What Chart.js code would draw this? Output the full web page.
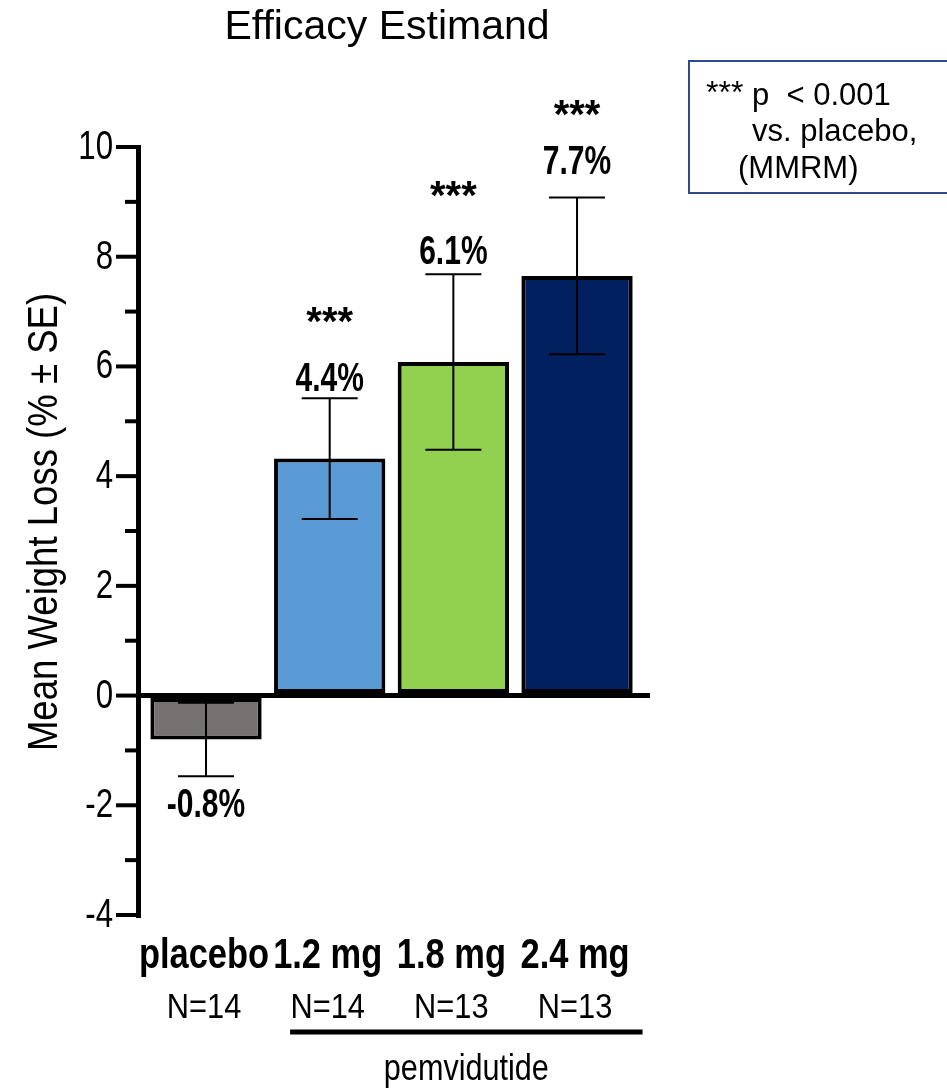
<!DOCTYPE html>
<html>
<head>
<meta charset="utf-8">
<script src="https://cdn.jsdelivr.net/npm/chart.js@4.4.1/dist/chart.umd.min.js"></script>
<style>
  html, body { margin: 0; padding: 0; background: #fff; }
  #wrap { position: relative; width: 947px; height: 1091px; }
  #note {
    position: absolute; left: 688px; top: 60px; width: 270px; height: 134px;
    border: 2px solid #2f4a8a; box-sizing: border-box;
    font-family: "Liberation Sans", Arial, sans-serif; font-size: 31px; color: #000;
  }
  #note span { position: absolute; white-space: nowrap; line-height: 1; }
</style>
</head>
<body>
<div id="wrap">
  <canvas id="c" width="947" height="1091"></canvas>
  <div id="note">
    <span style="left:16px; top:14px; font-size:32px;">***</span>
    <span style="left:62px; top:17px;">p&nbsp; &lt; 0.001</span>
    <span style="left:62px; top:53px;">vs. placebo,</span>
    <span style="left:48px; top:90px;">(MMRM)</span>
  </div>
</div>
<script>
var groups = ["placebo", "1.2 mg", "1.8 mg", "2.4 mg"];
var counts = ["N=14", "N=14", "N=13", "N=13"];
var loss = [-0.8, 4.32, 6.08, 7.65];
var se = [0.67, 1.1, 1.6, 1.43];
var valueLabels = ["-0.8%", "4.4%", "6.1%", "7.7%"];
var stars = ["", "***", "***", "***"];
var colors = ["#767171", "#5b9bd5", "#92d050", "#002060"];
var yTicks = [-4, -3, -2, -1, 0, 1, 2, 3, 4, 5, 6, 7, 8, 9, 10];

var SANS = '"Liberation Sans", Arial, sans-serif';

// no narrow font installed, so squeeze Liberation Sans sideways
function narrowText(ctx, text, x, y, sx) {
    ctx.save();
    ctx.translate(x, y);
    ctx.scale(sx, 1);
    ctx.fillText(text, 0, 0);
    ctx.restore();
}

// gap in px between error cap and label baseline, and label baseline to stars
var labelGap = [41, 7, 10, 23];
var starGap = [0, 56, 55, 46];

var extras = {
    id: 'extras',
    afterDatasetsDraw: function (chart) {
        var ctx = chart.ctx;
        var x = chart.scales.x, y = chart.scales.y;
        var meta = chart.getDatasetMeta(0);
        ctx.save();
        // error bars
        ctx.strokeStyle = '#000';
        ctx.lineWidth = 2;
        meta.data.forEach(function (bar, i) {
            var hi = y.getPixelForValue(loss[i] + se[i]);
            var lo = y.getPixelForValue(loss[i] - se[i]);
            ctx.beginPath();
            ctx.moveTo(bar.x, hi); ctx.lineTo(bar.x, lo);
            ctx.moveTo(bar.x - 28, hi); ctx.lineTo(bar.x + 28, hi);
            ctx.moveTo(bar.x - 28, lo); ctx.lineTo(bar.x + 28, lo);
            ctx.stroke();
        });
        // value labels and stars
        ctx.fillStyle = '#000';
        ctx.textAlign = 'center';
        ctx.textBaseline = 'alphabetic';
        meta.data.forEach(function (bar, i) {
            ctx.font = 'bold 40px ' + SANS;
            if (loss[i] < 0) {
                narrowText(ctx, valueLabels[i], bar.x, y.getPixelForValue(loss[i] - se[i]) + labelGap[i], 0.75);
            } else {
                var base = y.getPixelForValue(loss[i] + se[i]) - labelGap[i];
                narrowText(ctx, valueLabels[i], bar.x, base, 0.75);
                ctx.fillText(stars[i], bar.x, base - starGap[i]);
            }
        });
        // y ticks, major and minor, with labels on the even ones
        ctx.lineWidth = 4;
        ctx.textAlign = 'right';
        ctx.textBaseline = 'middle';
        ctx.font = '40px ' + SANS;
        yTicks.forEach(function (v) {
            var py = y.getPixelForValue(v);
            var major = v % 2 === 0;
            var len = major ? 22 : 13;
            ctx.beginPath();
            ctx.moveTo(x.left - len, py); ctx.lineTo(x.left, py);
            ctx.stroke();
            if (major) narrowText(ctx, String(v), 113, py + 1, 0.78);
        });
        // category labels
        ctx.textAlign = 'center';
        ctx.textBaseline = 'alphabetic';
        groups.forEach(function (g, i) {
            var px = x.getPixelForValue(i) - 2;
            ctx.font = 'bold 42px ' + SANS;
            narrowText(ctx, g, px, 968, 0.82);
            ctx.font = '35px ' + SANS;
            narrowText(ctx, counts[i], px, 1018, 0.88);
        });
        // pemvidutide bracket
        var x1 = x.getPixelForValue(0.68), x2 = x.getPixelForValue(3.53);
        ctx.lineWidth = 5;
        ctx.beginPath();
        ctx.moveTo(x1, 1032); ctx.lineTo(x2, 1032);
        ctx.stroke();
        ctx.font = '36px ' + SANS;
        narrowText(ctx, 'pemvidutide', (x1 + x2) / 2, 1080, 0.85);
        // title
        ctx.font = '41px ' + SANS;
        ctx.fillText('Efficacy Estimand', 387, 39);
        // y axis title
        ctx.translate(57, 522);
        ctx.rotate(-Math.PI / 2);
        ctx.font = '43px ' + SANS;
        narrowText(ctx, 'Mean Weight Loss (% \u00b1 SE)', 0, 0, 0.85);
        ctx.restore();
    }
};

new Chart(document.getElementById('c'), {
    type: 'bar',
    data: {
        datasets: [{
            data: loss.map(function (v, i) { return { x: i, y: v }; }),
            backgroundColor: colors,
            borderColor: '#000',
            borderWidth: 4,
            borderSkipped: false,
            barPercentage: 0.9,
            categoryPercentage: 1.0
        }]
    },
    options: {
        responsive: false,
        animation: false,
        events: [],
        layout: { padding: { top: 147, bottom: 176, left: 0, right: 297 } },
        plugins: { legend: { display: false }, tooltip: { enabled: false } },
        scales: {
            x: {
                type: 'linear',
                offset: false,
                min: -0.55,
                max: 3.59,
                afterBuildTicks: function (s) {
                    s.ticks = groups.map(function (g, i) { return { value: i }; });
                },
                grid: { display: false },
                border: { display: false },
                ticks: { display: false },
                afterFit: function (s) { s.height = 0; }
            },
            y: {
                min: -4,
                max: 10,
                afterBuildTicks: function (s) {
                    s.ticks = yTicks.map(function (v) { return { value: v }; });
                },
                ticks: { display: false },
                grid: {
                    drawTicks: false,
                    lineWidth: 5,
                    color: function (c) { return c.tick && c.tick.value === 0 ? '#000' : 'rgba(0,0,0,0)'; }
                },
                border: { display: true, color: '#000', width: 5 },
                afterFit: function (s) { s.width = 138; }
            }
        }
    },
    plugins: [extras]
});
</script>
</body>
</html>
